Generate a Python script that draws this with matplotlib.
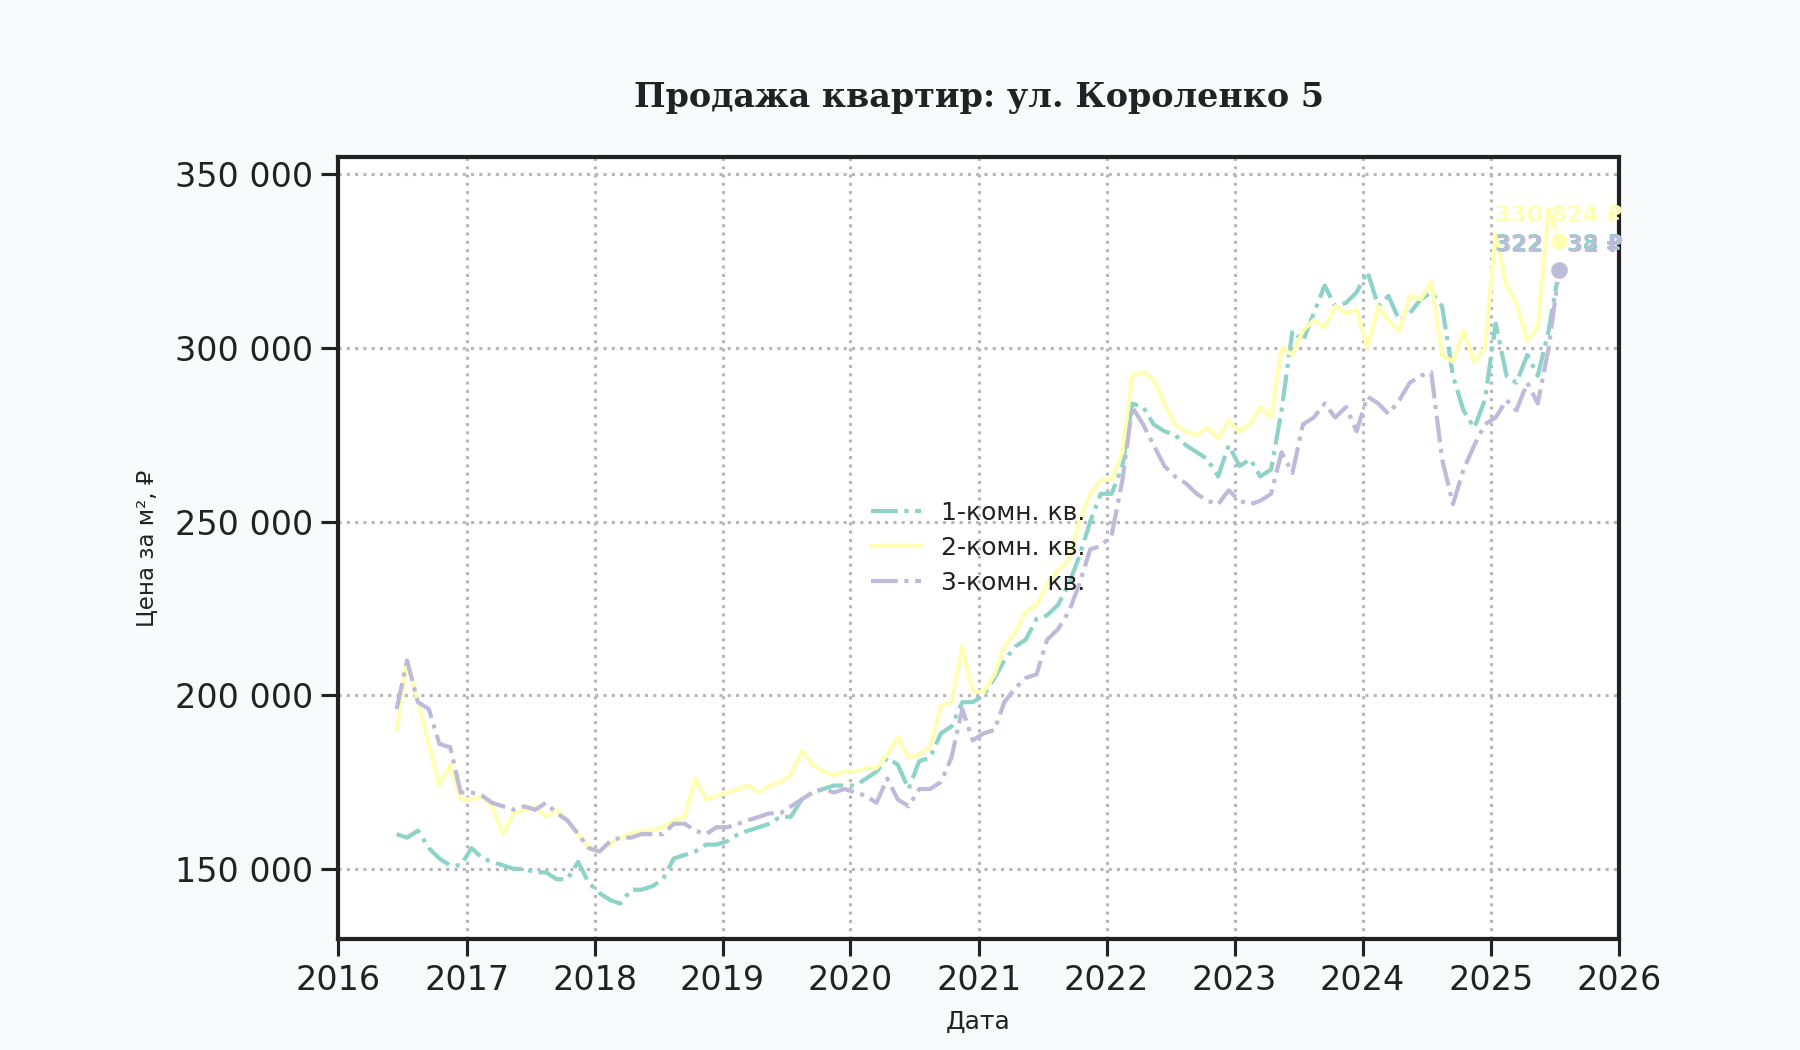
import matplotlib
matplotlib.use("Agg")
import matplotlib.pyplot as plt
import matplotlib.dates as mdates
from matplotlib.ticker import FuncFormatter
import pandas as pd

# ---------------- data (monthly, thousand ₽ per m²) ----------------
dates = pd.date_range("2016-06-01", "2025-07-01", freq="MS") + pd.Timedelta(days=14)

one_room = [
    160, 159, 161, 156, 153, 151, 151,
    156, 153, 152, 151, 150, 150, 149, 149, 147, 147, 152, 146,
    143, 141, 140, 144, 144, 145, 147, 153, 154, 155, 157, 157,
    158, 160, 161, 162, 163, 165, 165, 170, 172, 173, 174, 174,
    174, 176, 178, 182, 180, 173, 181, 182, 189, 191, 198, 198,
    200, 205, 210, 214, 216, 222, 223, 226, 232, 240, 250, 258,
    258, 266, 284, 283, 278, 276, 275, 272, 270, 268, 263, 272,
    266, 268, 263, 265, 282, 305, 302, 310, 318, 312, 313, 316,
    322, 312, 315, 308, 310, 314, 316, 312, 292, 282, 277, 285,
    307, 292, 290, 298, 292, 305, 322.538,
]
two_room = [
    190, 210, 198, 186, 174, 180, 170,
    170, 171, 168, 160, 166, 167, 168, 165, 167, 164, 160, 156,
    155, 157, 159, 160, 161, 161, 162, 164, 165, 176, 170, 171,
    172, 173, 174, 172, 174, 175, 177, 184, 180, 178, 177, 178,
    178, 179, 179, 183, 188, 182, 183, 185, 197, 198, 214, 201,
    201, 206, 214, 218, 224, 226, 232, 236, 239, 250, 258, 262,
    262, 270, 292, 293, 291, 284, 278, 276, 275, 277, 274, 279,
    276, 278, 283, 280, 300, 298, 305, 308, 306, 312, 310, 311,
    300, 312, 308, 305, 315, 314, 319, 298, 296, 305, 296, 300,
    333, 318, 313, 302, 306, 340, 330.824,
]
three_room = [
    196, 210, 198, 196, 186, 185, 172,
    172, 171, 169, 168, 167, 168, 167, 169, 166, 164, 160, 156,
    155, 158, 159, 159, 160, 160, 160, 163, 163, 161, 160, 162,
    162, 163, 164, 165, 166, 166, 168, 170, 172, 173, 172, 173,
    172, 171, 169, 176, 170, 168, 173, 173, 175, 182, 196, 187,
    189, 190, 198, 202, 205, 206, 216, 219, 224, 232, 242, 243,
    246, 262, 283, 278, 272, 266, 263, 261, 258, 256, 255, 259,
    256, 255, 256, 258, 270, 264, 278, 280, 284, 280, 283, 276,
    286, 284, 281, 285, 290, 292, 293, 268, 255, 265, 272, 278,
    280, 285, 282, 290, 284, 300, 322.332,
]
series_names = ["1-комн. кв.", "2-комн. кв.", "3-комн. кв."]
series_values = [one_room, two_room, three_room]
series_colors = ["#8dd3c7", "#ffffb3", "#bebada"]
series_styles = ["-.", "-", "-."]

y_ticks = [150000, 200000, 250000, 300000, 350000]

# ---------------- figure ----------------
fig = plt.figure(figsize=(12, 7), dpi=150, facecolor="#f8fafc")
ax = fig.add_axes([0.188, 0.1057, 0.7113, 0.7448])
ax.set_facecolor("white")

for name, vals, col, ls in zip(series_names, series_values, series_colors, series_styles):
    yv = [v * 1000 for v in vals]
    ax.plot(dates, yv, ls, color=col, lw=2.0, label=name, zorder=3)

for vals, col in zip(series_values, series_colors):
    v = vals[-1] * 1000
    ax.annotate(f"{v:,.0f} ₽".replace(",", " "), (dates[-1], v),
                xytext=(0, 12), textcoords="offset points",
                ha="center", va="center", fontsize=11, fontweight="bold",
                color=col, zorder=4)
for vals, col in zip(series_values, series_colors):
    v = vals[-1] * 1000
    ax.plot([dates[-1]], [v], "o", ms=9.5, mfc=col, mec="white", mew=1.5, zorder=5)

ax.set_xlim(pd.Timestamp("2016-01-01"), pd.Timestamp("2026-01-01"))
ax.set_ylim(129800, 355000)
ax.set_yticks(y_ticks)
ax.yaxis.set_major_formatter(FuncFormatter(lambda x, p: f"{x:,.0f}".replace(",", " ")))
ax.xaxis.set_major_locator(mdates.YearLocator())
ax.xaxis.set_major_formatter(mdates.DateFormatter("%Y"))

ax.grid(True, linestyle=":", color="#b8b8b8", linewidth=1.5)
ax.set_axisbelow(True)
for sp in ax.spines.values():
    sp.set_color("#222222")
    sp.set_linewidth(2)
ax.tick_params(axis="both", labelsize=16, length=8, width=1.5, direction="out",
               color="#222222", labelcolor="#222222", pad=4)

ax.set_title("Продажа квартир: ул. Короленко 5", fontsize=16, fontweight="bold",
             family="DejaVu Serif", color="#222222", pad=24)
ax.set_xlabel("Дата", fontsize=12, color="#222222", labelpad=6)
ax.set_ylabel("Цена за м², ₽", fontsize=11, color="#222222", labelpad=8)

leg = ax.legend(loc="center", frameon=False, fontsize=12, labelspacing=0.45)
for t in leg.get_texts():
    t.set_color("#222222")

fig.savefig("out.png", dpi=150, facecolor=fig.get_facecolor())
